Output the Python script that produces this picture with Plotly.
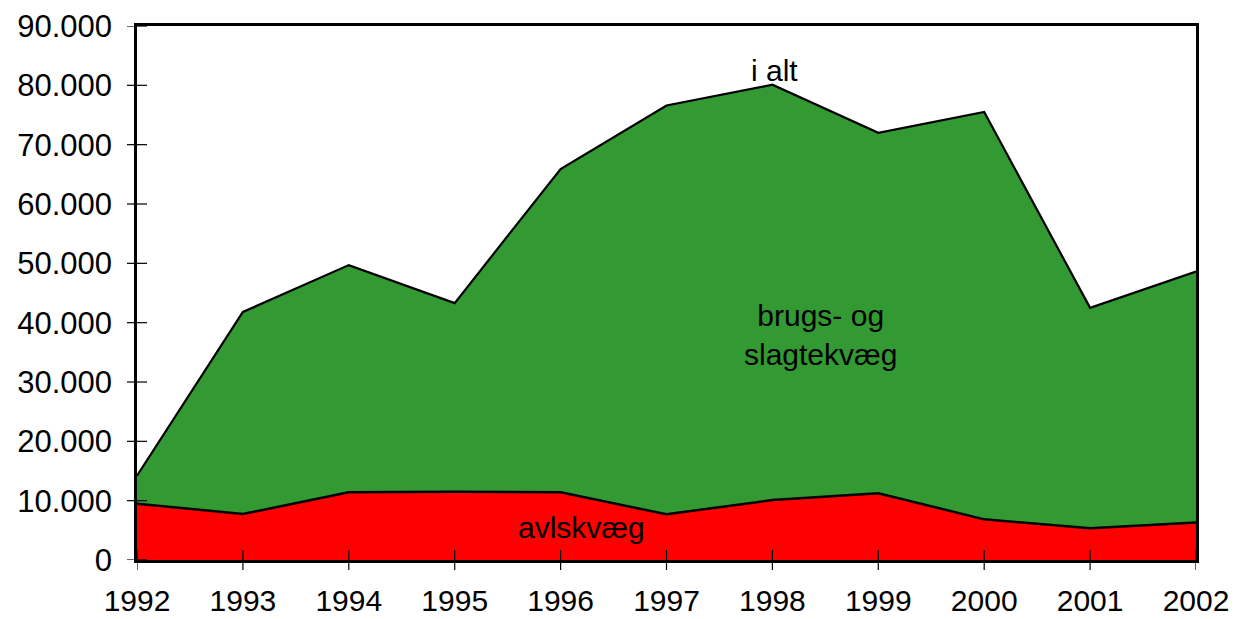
import plotly.graph_objects as go

years = [1992, 1993, 1994, 1995, 1996, 1997, 1998, 1999, 2000, 2001, 2002]
avlskvaeg = [9500, 7750, 11400, 11500, 11400, 7700, 10100, 11250, 6850, 5350, 6300]
i_alt = [14200, 41800, 49700, 43300, 65900, 76600, 80100, 72000, 75500, 42500, 48600]
brugs = [t - a for t, a in zip(i_alt, avlskvaeg)]
y_ticks = [0, 10000, 20000, 30000, 40000, 50000, 60000, 70000, 80000, 90000]
y_labels = ["0", "10.000", "20.000", "30.000", "40.000", "50.000", "60.000", "70.000", "80.000", "90.000"]

FONT = "Liberation Sans, Arial, sans-serif"
W, H = 1235, 619
ML, MR, MT, MB = 137, 39, 26, 59
PW, PH = W - ML - MR, H - MT - MB
TL = 10  # tick half-length in px

fig = go.Figure()
fig.add_trace(go.Scatter(x=years, y=avlskvaeg, stackgroup="one", mode="lines",
                         line=dict(color="black", width=2.5), fillcolor="#FF0000",
                         name="avlskvæg", hoverinfo="x+y"))
fig.add_trace(go.Scatter(x=years, y=brugs, stackgroup="one", mode="lines",
                         line=dict(color="black", width=2.2), fillcolor="#339933",
                         name="brugs- og slagtekvæg", hoverinfo="x+y"))

shapes = []
for yr in years:
    shapes.append(dict(type="line", xref="x", yref="paper", x0=yr, x1=yr,
                       y0=-TL / PH, y1=TL / PH, line=dict(color="black", width=1.2),
                       layer="above"))
for yv in y_ticks:
    shapes.append(dict(type="line", xref="paper", yref="y", x0=-TL / PW, x1=TL / PW,
                       y0=yv, y1=yv, line=dict(color="black", width=1.2), layer="above"))

fig.update_layout(
    width=W, height=H,
    margin=dict(l=ML, r=MR, t=MT, b=MB),
    paper_bgcolor="white", plot_bgcolor="white",
    showlegend=False,
    font=dict(family=FONT, size=31, color="black"),
    xaxis=dict(range=[1992, 2002], tickvals=years, ticktext=[str(y) for y in years],
               showgrid=False, zeroline=False, showline=True, linecolor="black", linewidth=2.5,
               mirror=True, ticks="", automargin=False,
               tickfont=dict(size=30, family=FONT), ticklabelstandoff=12),
    yaxis=dict(range=[0, 90000], tickvals=y_ticks, ticktext=y_labels,
               showgrid=False, zeroline=False, showline=True, linecolor="black", linewidth=2.5,
               mirror=True, ticks="", automargin=False,
               tickfont=dict(size=31, family=FONT), ticklabelstandoff=16),
    shapes=shapes,
    annotations=[
        dict(x=1998.02, y=82500, text="i alt", showarrow=False, xanchor="center",
             yanchor="middle", font=dict(size=30, family=FONT)),
        dict(x=1998.45, y=38000, text="brugs- og<br>slagtekvæg", showarrow=False,
             xanchor="center", yanchor="middle", font=dict(size=30, family=FONT)),
        dict(x=1996.2, y=5500, text="avlskvæg", showarrow=False, xanchor="center",
             yanchor="middle", font=dict(size=30, family=FONT)),
    ],
)

fig.write_html(
    "out.html",
    config={"displayModeBar": False},
    post_script="document.body.style.margin='0';document.body.style.overflow='hidden';",
)
